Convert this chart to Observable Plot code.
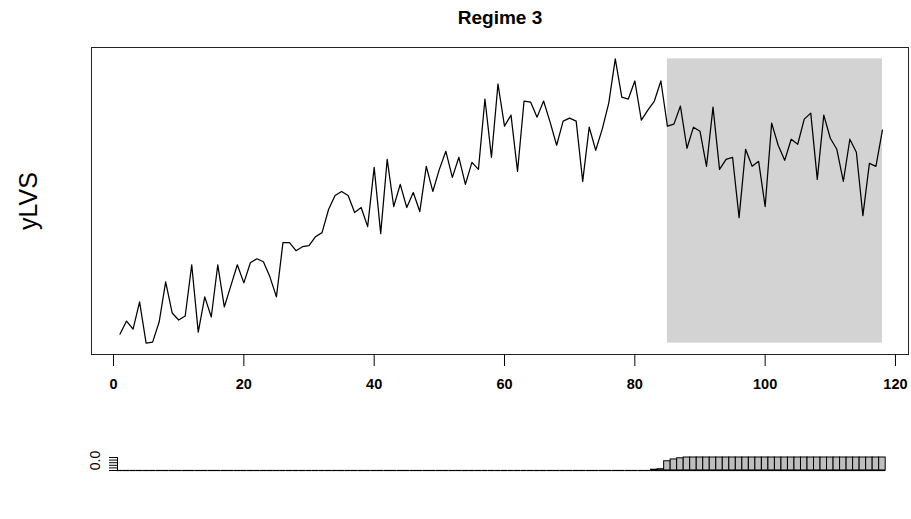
<!DOCTYPE html>
<html><head><meta charset="utf-8">
<script src="https://cdn.jsdelivr.net/npm/d3@7"></script>
<script src="https://cdn.jsdelivr.net/npm/@observablehq/plot@0.6"></script>
<style>body{margin:0;background:#fff} #chart svg{display:block}</style>
</head><body><div id="chart"></div>
<script>
const yLVS = [9,22,14,41,0,1,21,61,30,23,27,78,11,46,26,78,36,57,78,60,
  80,84,81,66,46,100,100,92,96,97,106,110,133,147,151,147,130,135,116,175,
  109,183,136,158,135,150,131,176,151,173,191,165,185,158,180,173,243,185,258,216,
  227,171,241,240,225,241,220,197,221,224,221,161,215,192,213,239,283,245,243,261,
  222,232,241,261,216,218,236,194,215,211,176,235,173,183,185,125,193,176,181,136,
  219,197,182,203,198,223,229,163,227,204,193,161,203,190,127,179,176,212];
const regimeProb = [0,0,0,0,0,0,0,0,0,0,0,0,0,0,0,0,0,0,0,0,
  0,0,0,0,0,0,0,0,0,0,0,0,0,0,0,0,0,0,0,0,
  0,0,0,0,0,0,0,0,0,0,0,0,0,0,0,0,0,0,0,0,
  0,0,0,0,0,0,0,0,0,0,0,0,0,0,0,0,0,0,0,0,
  0,0,0.06,0.1,0.71,0.85,0.94,1,1,1,1,1,1,1,1,1,1,1,1,1,
  1,1,1,1,1,1,1,1,1,1,1,1,1,1,1,1,1,1];
const regimeSpan = [85, 118];
const xTicks = [0, 20, 40, 60, 80, 100, 120];
const probTicks = [0, 0.2, 0.4, 0.6, 0.8, 1];
const title = "Regime 3";
const yLabel = "yLVS";

const series = yLVS.map((v, i) => ({t: i + 1, v}));
const probs = regimeProb.map((p, i) => ({t: i + 1, p}));
const lo = d3.min(yLVS), hi = d3.max(yLVS), pad = (hi - lo) * 0.04;
const xDomain = [-3.38, 122.0];
const font = "Arial, 'Liberation Sans', Helvetica, sans-serif";

const topChart = Plot.plot({
  width: 911, height: 400,
  marginTop: 47, marginBottom: 46, marginLeft: 91, marginRight: 3,
  style: {fontFamily: font, background: "white", color: "black"},
  x: {domain: xDomain},
  y: {domain: [lo - pad, hi + pad], axis: null},
  marks: [
    Plot.rect([regimeSpan], {x1: d => d[0], x2: d => d[1], y1: () => lo, y2: () => hi, fill: "#d3d3d3"}),
    Plot.line(series, {x: "t", y: "v", stroke: "black", strokeWidth: 1.25}),
    Plot.frame({stroke: "#222"}),
    Plot.axisX({ticks: xTicks, tickSize: 12, tickPadding: 12, fontSize: 14.5, fontWeight: "bold", tickFormat: d => String(d), label: null}),
    Plot.text([title], {frameAnchor: "top", dy: -30, fontSize: 19, fontWeight: "bold", lineAnchor: "middle"}),
    Plot.text([yLabel], {frameAnchor: "left", dx: -63, rotate: -90, fontSize: 25, textAnchor: "middle", lineAnchor: "middle"})
  ]
});

const bottomChart = Plot.plot({
  width: 911, height: 119,
  marginTop: 57, marginBottom: 49, marginLeft: 91, marginRight: 3,
  style: {fontFamily: font, background: "white", color: "black"},
  x: {domain: xDomain, axis: null},
  y: {domain: [0, 1], axis: null},
  marks: [
    Plot.rectY(probs, {x1: d => d.t - 0.5, x2: d => d.t + 0.5, y: "p", fill: "#bebebe", stroke: "black", strokeWidth: 1}),
    Plot.ruleY(probs, {y: () => 0, x1: d => d.t - 0.5, x2: d => d.t + 0.5, stroke: "black", strokeWidth: 1.2}),
    Plot.axisY({ticks: probTicks, tickSize: 8, dx: 26, tickFormat: () => "", anchor: "left", label: null}),
    Plot.ruleX([xDomain[0]], {y1: () => 0, y2: () => 1, dx: 26, stroke: "black"}),
    Plot.text([0], {y: d => d, frameAnchor: "left", dx: 4, dy: -10, rotate: -90, text: () => "0.0", fontSize: 14, textAnchor: "middle", lineAnchor: "middle"})
  ]
});

document.getElementById("chart").append(topChart, bottomChart);
</script>
</body></html>
